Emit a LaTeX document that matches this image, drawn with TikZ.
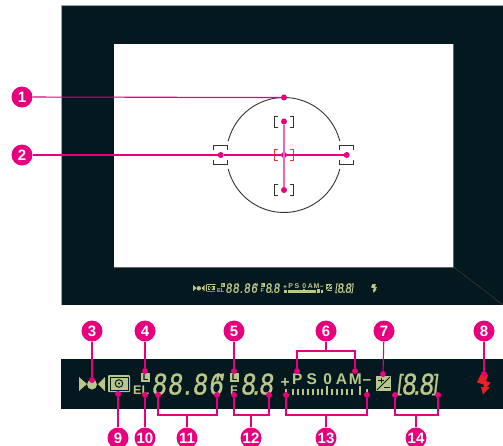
\documentclass[tikz,border=0pt]{standalone}
\usepackage{fontspec}
\setmainfont{Liberation Sans}
\newfontfamily\lcdfont[FakeSlant=0.12, FakeBold=1, FakeStretch=0.84, LetterSpace=6.5]{Liberation Sans}
\usetikzlibrary{positioning}
\definecolor{callpink}{HTML}{E6007E}
\definecolor{calllight}{HTML}{F266B4}
\definecolor{vfdark}{HTML}{041820}
\definecolor{lcdgreen}{HTML}{BBC788}
\definecolor{afblack}{HTML}{333333}
\definecolor{afred}{HTML}{EE3A36}
\definecolor{flashred}{HTML}{EA2027}
\tikzset{
  vfpanel/.style   = {fill=vfdark},
  badge/.style     = {circle, fill=callpink, text=white, inner sep=0pt,
                      minimum size=21pt, font=\fontsize{15}{15}\selectfont\bfseries},
  calldot/.style   = {circle, fill=callpink, minimum size=6pt, inner sep=0pt},
  callline/.style  = {draw=callpink, line width=1.1pt},
  calllit/.style   = {draw=calllight, line width=1.5pt},
  afmark/.style    = {draw=afblack, line width=0.9pt},
  afmarkon/.style  = {afmark, draw=afred},
  lcdnum/.style    = {text=lcdgreen, inner sep=0pt, anchor=base west,
                      font=\fontsize{30}{30}\lcdfont},
  lcdword/.style   = {text=lcdgreen, inner sep=0pt, anchor=base west,
                      font=\fontsize{15.5}{15.5}\selectfont\bfseries},
  lcdsmall/.style  = {text=lcdgreen, inner sep=0pt, anchor=base west,
                      font=\fontsize{12.5}{12.5}\selectfont\bfseries},
  lcdbox/.style    = {fill=lcdgreen, text=vfdark, inner sep=0pt, minimum width=9pt,
                      minimum height=9pt, font=\fontsize{9}{9}\selectfont\bfseries},
  lcdtick/.style   = {draw=lcdgreen, line width=2.3pt},
}
% display row, drawn at full size and again inside the finder
\newcommand{\lcdrow}[2]{
  \fill[lcdgreen] (79,377) -- (87,384) -- (79,391) -- cycle;
  \fill[lcdgreen] (105,377) -- (98,384) -- (105,391) -- cycle;
  \fill[lcdgreen] (92,384.5) circle (5);
  \fill[lcdgreen, rounded corners=1pt] (108,375) rectangle (130,392);
  \draw[vfdark, line width=0.7pt] (110,377) rectangle (128,390);
  \draw[vfdark, line width=1pt] (119,383.5) circle (3.8);
  \fill[vfdark] (119,383.5) circle (1.2);
  \node[lcdbox] (#1boxa) at (145.5,377.5) {L};
  \node[lcdsmall] (#1el) at (133,394.5) {EL};
  \node[lcdnum] (#1time) at (151.5,394.5) {88.86\kern-.3em"\kern-.25em};
  \node[lcdbox] (#1boxb) at (234.5,377.5) {L};
  \node[lcdsmall] (#1ff) at (230,394.5) {F};
  \node[lcdnum] (#1stop) at (240.5,394.5) {8\kern-.08em.\kern-.02em8};
  \node[lcdword] (#1plus) at (280.5,387) {+};
  \node[lcdword] (#1mode) at (292,384.5) {P\kern4ptS\kern6.5pt0\kern3.8ptA\kern1.8ptM\kern1pt–};
  \foreach \tx in {286,293,298,303,308,313,318,322,332,337,342,347,352,367}
    {\draw[lcdtick] (\tx,394.5) -- ++(0,-5.5);}
  \foreach \tx in {327,360}
    {\draw[lcdtick] (\tx,394.5) -- ++(0,-9);}
  \fill[lcdgreen] (376,376) rectangle (391,391);
  \draw[vfdark, line width=1pt] (377,390) -- (390,377);
  \draw[vfdark, line width=1pt] (378,380) -- (384,380) (381,377.5) -- (381,382.5) (384,387) -- (389.5,387);
  \node[lcdnum] (#1comp) at (396.5,394.5) {\raisebox{.13em}{\fontsize{23}{23}\selectfont[}\kern-.02em8\kern-.08em.\kern-.04em8\kern-.02em\raisebox{.13em}{\fontsize{23}{23}\selectfont]}};
  \fill[#2] (480.5,375) -- (488,375) -- (486,381) -- (490.5,382.5) -- (487,387) -- (490,387)
    -- (483,394.5) -- (481,387) -- (484,387) -- (483.5,384.5) -- (477,382.5) -- cycle;
}
\begin{document}
\begin{tikzpicture}[x=1pt, y=-1pt]
  \useasboundingbox (0,0) rectangle (503,445);
  % finder
  \fill[vfpanel] (61,5) rectangle (503,305);
  \draw[gray!70, line width=0.6pt] (61,305) -- (61,5) -- (503,5);
  \fill[white] (114,44) rectangle (453.5,267);
  \draw[gray!80!black, line width=0.4pt] (453.5,44) -- (453.5,267) -- (114,267);
  \draw[brown!35!vfdark, line width=0.5pt] (453.5,267) -- (503,305);
  \begin{scope}[shift={(157.7,116.4)}, scale=0.447, transform shape]
    \lcdrow{s}{lcdgreen}
  \end{scope}
  % af area
  \draw[afmark] (339.8,141.1) arc[start angle=14, end angle=166, radius=57.5pt];
  \draw[afmark] (339.8,168.9) arc[start angle=-14, end angle=-166, radius=57.5pt];
  \foreach \cx/\cy/\st in {284/121.5/afmark, 284/190/afmark, 284/155/afmarkon}{
    \draw[\st] (\cx-6,\cy-5.5) -- ++(-3.5,0) -- ++(0,11) -- ++(3.5,0);
    \draw[\st] (\cx+6,\cy-5.5) -- ++(3.5,0) -- ++(0,11) -- ++(-3.5,0);
  }
  \foreach \cx in {220.7,346.7}{
    \draw[afmark] (\cx-7,150) -- ++(0,-4.8) -- ++(14,0) -- ++(0,4.8);
    \draw[afmark] (\cx-7,160) -- ++(0,4.8) -- ++(14,0) -- ++(0,-4.8);
  }
  % display strip
  \fill[vfpanel] (61,359) rectangle (503,408.7);
  \lcdrow{b}{flashred}
  % badges
  \node[badge] (n1) at (22,97) {1};
  \node[badge] (n2) at (22,155) {2};
  \foreach \n/\x in {3/92, 4/145, 5/234, 6/326, 7/384, 8/484}
    {\node[badge] (n\n) at (\x,331) {\n};}
  \foreach \n/\x in {9/118, 10/145, 11/187, 12/251, 13/326, 14/416}
    {\node[badge] (n\n) at (\x,438) {\n};}
  % dots
  \foreach \d/\x/\y in {pa/284/97.5, pb/220.7/155, pc/284/155, pd/346.7/155, pe/284/121.5, pf/284/190,
                        d3/92/380, d4/145/371, d5/234/371, d6a/297/371, d6b/355/371, d7/383/374, d8/484/374,
                        d9/118/394, d10/145/395, d11a/158/395, d11b/217/395, d12a/234/395, d12b/269/395,
                        d13a/286/395, d13b/367/395, d14a/395/395, d14b/438/395}
    {\node[calldot] (\d) at (\x,\y) {};}
  % connectors
  \draw[calllit] (pe) -- (pf);
  \draw[callline] (n1) -- (pa);
  \draw[callline] (n2) -- (pb) -- (pc) -- (pd);
  \foreach \n in {3,4,5,7,8,9,10}
    {\draw[callline] (n\n) -- (d\n);}
  \foreach \n/\y in {6/351, 11/415, 12/415, 13/415, 14/415}{
    \coordinate (j\n) at (n\n |- 0,\y);
    \draw[callline] (d\n a) |- (j\n) -| (d\n b);
    \draw[callline] (n\n) -- (j\n);
  }
\end{tikzpicture}
\end{document}
